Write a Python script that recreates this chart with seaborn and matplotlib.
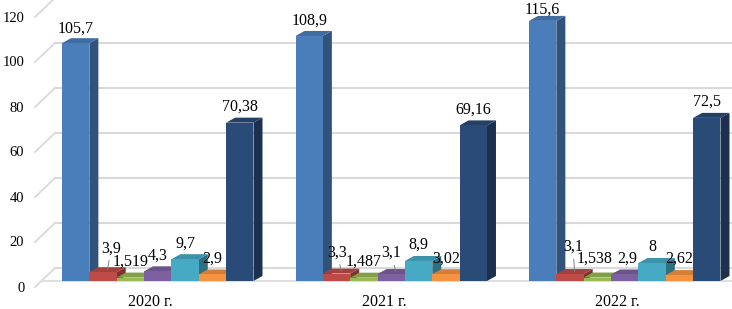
import matplotlib
matplotlib.use("Agg")
import matplotlib.colors as colors
import matplotlib.pyplot as plt
import matplotlib.transforms as mtransforms
from matplotlib.patches import Polygon
import numpy as np
import pandas as pd
import seaborn as sns

# data
years = ["2020 г.", "2021 г.", "2022 г."]
series = ["s1", "s2", "s3", "s4", "s5", "s6", "s7"]
s1 = [105.7, 108.9, 115.6]
s2 = [3.9, 3.3, 3.1]
s3 = [1.519, 1.487, 1.538]
s4 = [4.3, 3.1, 2.9]
s5 = [9.7, 8.9, 8.0]
s6 = [2.9, 3.02, 2.62]
s7 = [70.38, 69.16, 72.5]
y_ticks = [0, 20, 40, 60, 80, 100, 120]

front_colors = ["#4a7ebb", "#be4b48", "#98b954", "#7d60a0", "#46aac5", "#f69240", "#2a4a78"]

# label nudges in pixels (dx, dy from bar front top), and which get a leader line
label_nudge = {
    (0, 0): (0, -15), (1, 0): (0, -15), (2, 0): (0, -11),
    (0, 1): (8, -24), (1, 1): (1, -21), (1, 3): (0, -21),
    (2, 1): (3, -27), (2, 2): (-3, -19), (2, 3): (3, -16),
}
leader = {(0, 1), (1, 1), (1, 3), (2, 1)}

rows = []
for s, vals in zip(series, [s1, s2, s3, s4, s5, s6, s7]):
    for y, v in zip(years, vals):
        rows.append({"year": y, "series": s, "value": v})
df = pd.DataFrame(rows)

FS = 11.5
plt.rcParams["font.family"] = ["Liberation Serif", "DejaVu Serif"]
plt.rcParams["font.size"] = FS

W, H = 732, 309
fig = plt.figure(figsize=(W / 100, H / 100), dpi=100)
AX_L, AX_B, AX_W, AX_H = 41, 28, 691, 281
ax = fig.add_axes([AX_L / W, AX_B / H, AX_W / W, AX_H / H])

PX_X = 233.5  # px per category
PX_Y = 2.25   # px per value unit

sns.barplot(
    data=df, x="year", y="value", hue="series", hue_order=series,
    order=years, palette=front_colors, width=0.82, gap=0,
    saturation=1, linewidth=0, legend=False, errorbar=None, ax=ax,
)

ax.set_xlim(-0.5, -0.5 + AX_W / PX_X)
ax.set_ylim(0, AX_H / PX_Y)
for sp in ax.spines.values():
    sp.set_visible(False)
ax.set_xlabel("")
ax.set_ylabel("")

# back wall grid + diagonal floor ticks
grid_c = "#d9d9d9"
x_right = -0.5 + AX_W / PX_X
for v in y_ticks:
    yb = v + 13 / PX_Y
    xb = -0.5 + 14 / PX_X
    ax.plot([-0.5 - 6 / PX_X, xb], [v - 6 / PX_Y, yb], color=grid_c, lw=1.3,
            clip_on=False, zorder=0.5)
    ax.plot([xb, x_right], [yb, yb], color=grid_c, lw=1.5, clip_on=False, zorder=0.5)
# floor front edge
ax.plot([-0.5 + 2 / PX_X, x_right], [0, 0], color=grid_c, lw=1.2, clip_on=False, zorder=0.5)

# pseudo-3D faces
BDX, BDY = 9 / PX_X, 5 / PX_Y
bars = sorted([p for p in ax.patches if p.get_height() > 0], key=lambda p: p.get_x())
for i, p in enumerate(bars):
    x0, w, h = p.get_x(), p.get_width(), p.get_height()
    fc = np.array(colors.to_rgb(p.get_facecolor()))
    z = 2 + i * 0.01
    side = Polygon([(x0 + w, 0), (x0 + w + BDX, BDY), (x0 + w + BDX, h + BDY), (x0 + w, h)],
                   closed=True, facecolor=fc * 0.66, edgecolor="none", zorder=z)
    top = Polygon([(x0, h), (x0 + BDX, h + BDY), (x0 + w + BDX, h + BDY), (x0 + w, h)],
                  closed=True, facecolor=fc * 0.86, edgecolor="none", zorder=z)
    ax.add_patch(side)
    ax.add_patch(top)
    p.set_zorder(z + 0.005)

# data labels
all_vals = [s1, s2, s3, s4, s5, s6, s7]
for i, p in enumerate(bars):
    g, k = i // 7, i % 7
    v = all_vals[k][g]
    txt = f"{v:g}".replace(".", ",")
    cx = p.get_x() + p.get_width() / 2
    dx, dy = label_nudge.get((g, k), (0, -16))
    kw = {}
    if (g, k) in leader:
        kw["arrowprops"] = dict(arrowstyle="-", color="#7f7f7f", lw=0.7,
                                shrinkA=1, shrinkB=0)
    ax.annotate(txt, xy=(cx + BDX / 2, v + BDY / 2), xytext=(dx - 4.5, -dy - 2.5),
                textcoords="offset pixels", ha="center", va="center",
                fontsize=FS, color="black", zorder=10, **kw)

# ticks
ax.set_yticks(y_ticks)
ax.set_yticklabels([str(t) for t in y_ticks], fontsize=10.5)
ax.tick_params(axis="y", length=0, pad=12)
ax.tick_params(axis="x", length=0, pad=9)
ax.set_xticks(range(len(years)))
ax.set_xticklabels(years)
for lbl in ax.get_yticklabels():
    lbl.set_transform(lbl.get_transform() +
                      mtransforms.ScaledTranslation(0, -5.5 / 100, fig.dpi_scale_trans))
for lbl in ax.get_xticklabels():
    lbl.set_transform(lbl.get_transform() +
                      mtransforms.ScaledTranslation(-7 / 100, 0, fig.dpi_scale_trans))

fig.savefig("out.png", dpi=100, facecolor="white")
